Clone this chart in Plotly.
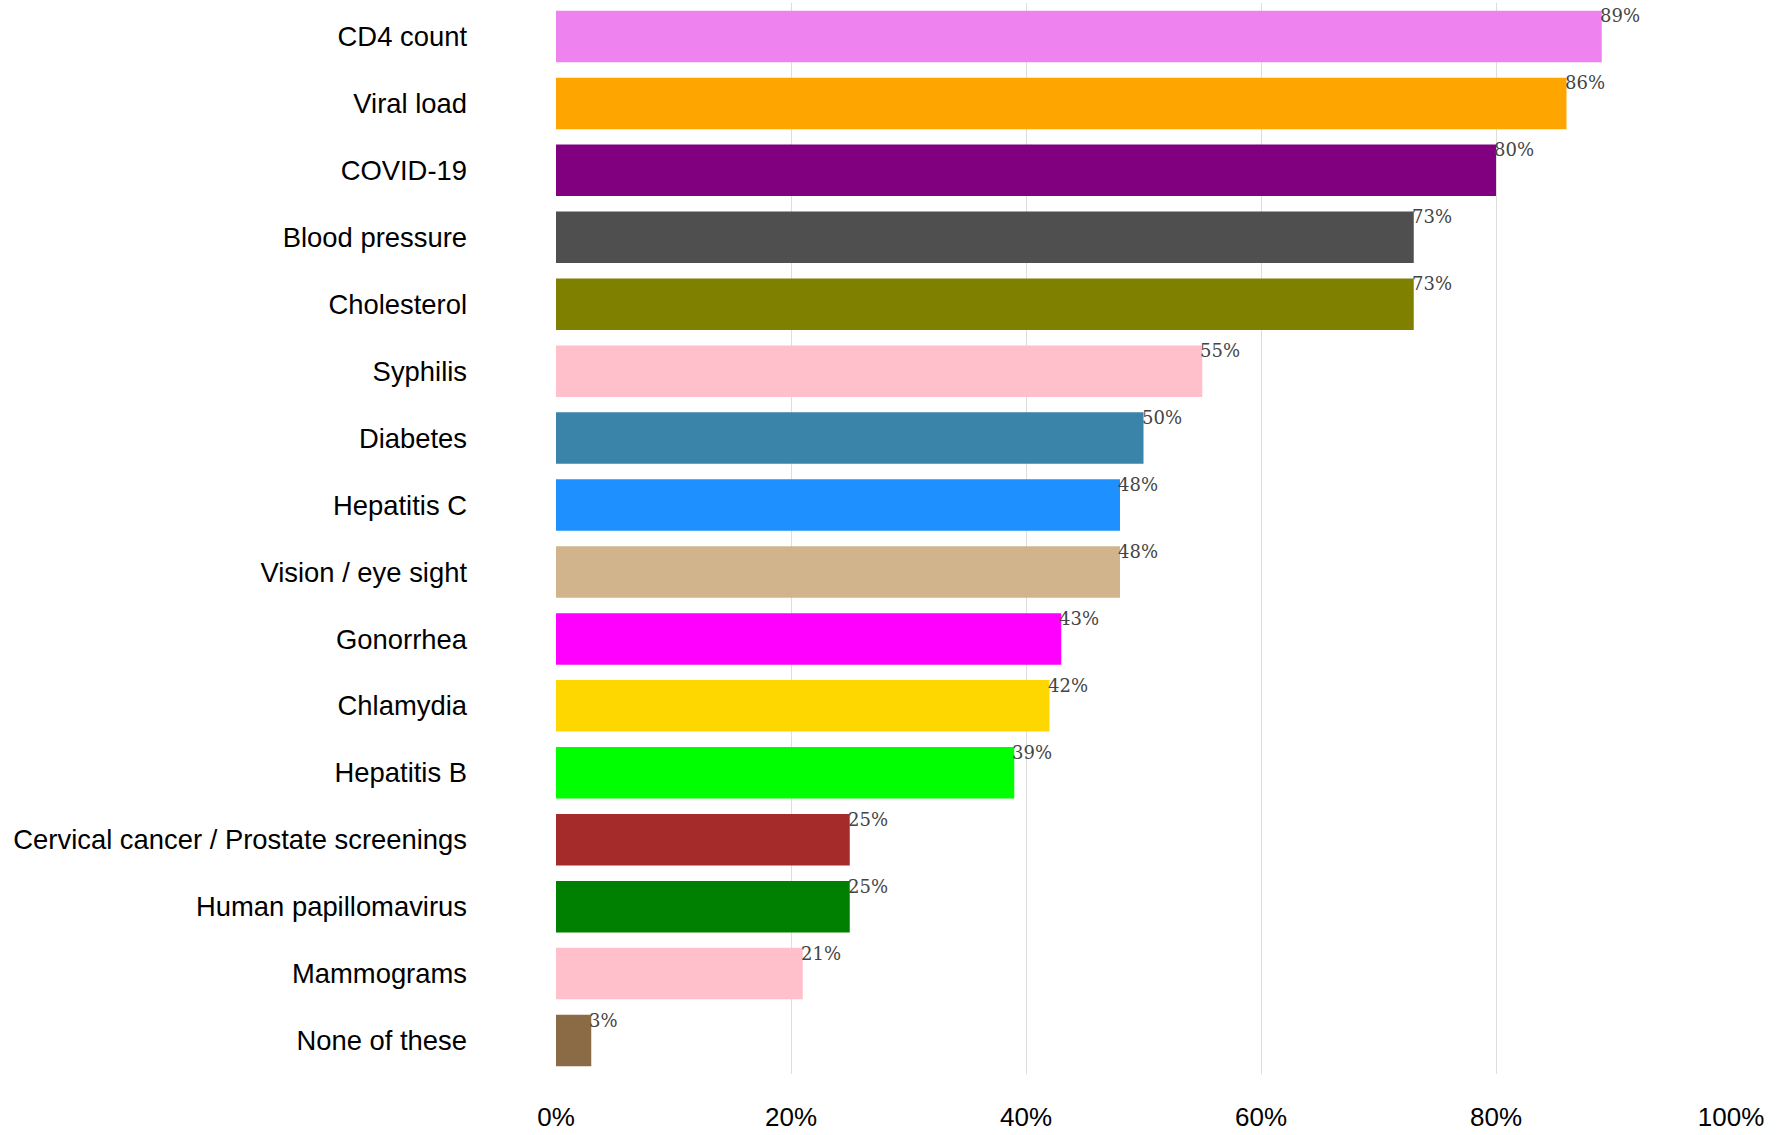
import plotly.graph_objects as go

# Health tests / screenings, share of respondents (%)
categories = [
    "CD4 count", "Viral load", "COVID-19", "Blood pressure", "Cholesterol",
    "Syphilis", "Diabetes", "Hepatitis C", "Vision / eye sight", "Gonorrhea",
    "Chlamydia", "Hepatitis B", "Cervical cancer / Prostate screenings",
    "Human papillomavirus", "Mammograms", "None of these",
]
values = [89, 86, 80, 73, 73, 55, 50, 48, 48, 43, 42, 39, 25, 25, 21, 3]
colors = [
    "#EE82EE", "#FFA500", "#800080", "#4F4F4F", "#808000",
    "#FFC0CB", "#3A84AA", "#1E90FF", "#D2B48C", "#FF00FF",
    "#FFD700", "#00FF00", "#A52A2A", "#008000", "#FFC0CB", "#8B6B46",
]
x_ticks = [0, 20, 40, 60, 80, 100]
x_tick_labels = ["0%", "20%", "40%", "60%", "80%", "100%"]

fig = go.Figure(
    go.Bar(
        x=values,
        y=categories,
        orientation="h",
        marker=dict(color=colors, line=dict(width=0)),
        hoverinfo="x+y",
    )
)

# value labels sit just right of each bar end, aligned with the bar top
for cat, v in zip(categories, values):
    fig.add_annotation(
        x=v, y=cat, xref="x", yref="y",
        text=f"{v}%", showarrow=False,
        xanchor="left", yanchor="top",
        yshift=33, xshift=-4,
        font=dict(family="DejaVu Serif", size=18, color="#444444"),
    )

fig.update_layout(
    width=1778, height=1135,
    margin=dict(l=556, r=47, t=3, b=44),
    paper_bgcolor="white", plot_bgcolor="white",
    bargap=0.23,
    showlegend=False,
    font=dict(family="Liberation Sans, Arial", size=27, color="#000000"),
)
fig.update_xaxes(
    range=[0, 100],
    tickvals=x_ticks, ticktext=x_tick_labels,
    showgrid=True, gridcolor="#DDDDDD", gridwidth=1,
    zeroline=False, showline=False,
    ticks="outside", ticklen=20, tickcolor="rgba(0,0,0,0)",
    tickfont=dict(family="Liberation Sans, Arial", size=26, color="#000000"),
)
fig.update_yaxes(
    categoryorder="array", categoryarray=categories,
    autorange="reversed",
    showgrid=False, zeroline=False, showline=False,
    ticks="", ticklabelstandoff=88,
    tickfont=dict(family="Liberation Sans, Arial", size=27.4, color="#000000"),
)

fig.write_html("out.html")
